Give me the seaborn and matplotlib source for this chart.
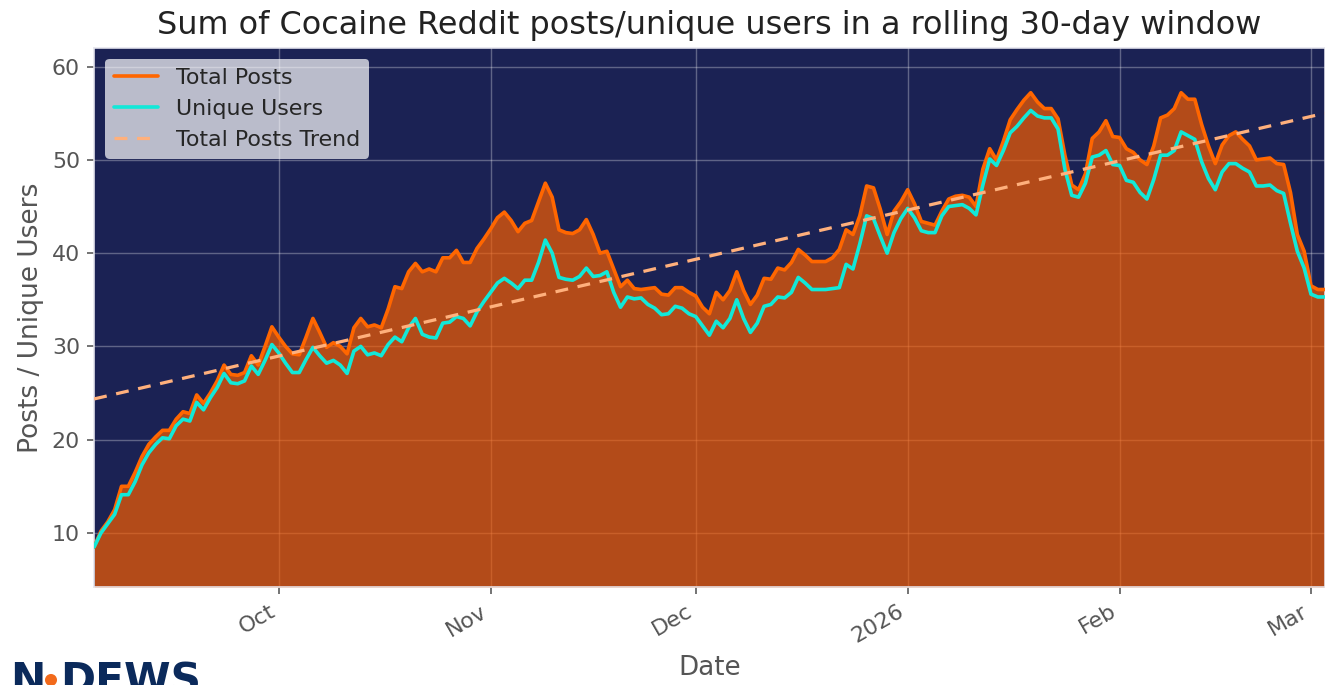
import numpy as np
import pandas as pd
import matplotlib
matplotlib.use("Agg")
import matplotlib.pyplot as plt
import matplotlib.dates as mdates
from matplotlib.patches import Ellipse
import seaborn as sns

# 30-day rolling sums, one value per day starting 2025-09-04
start_date = "2025-09-04"
total_posts = [
    8.5, 10.2, 11.2, 12.5, 15.0, 15.0, 16.5, 18.2, 19.5, 20.3,
    21.0, 21.0, 22.2, 23.0, 22.8, 24.8, 23.9, 25.0, 26.3, 28.0,
    27.0, 26.9, 27.2, 29.0, 28.0, 30.0, 32.1, 31.0, 30.0, 29.2,
    29.1, 31.0, 33.0, 31.5, 29.9, 30.4, 30.0, 29.2, 32.0, 33.0,
    32.1, 32.3, 32.0, 34.0, 36.4, 36.2, 38.0, 38.9, 38.0, 38.3,
    38.0, 39.5, 39.5, 40.3, 39.0, 39.0, 40.5, 41.5, 42.6, 43.8,
    44.4, 43.5, 42.3, 43.2, 43.5, 45.5, 47.5, 46.0, 42.5, 42.2,
    42.1, 42.5, 43.6, 42.0, 40.0, 40.2, 38.3, 36.4, 37.1, 36.2,
    36.1, 36.2, 36.3, 35.6, 35.5, 36.3, 36.3, 35.8, 35.4, 34.2,
    33.5, 35.8, 35.0, 36.0, 38.0, 36.0, 34.5, 35.5, 37.3, 37.2,
    38.4, 38.2, 39.0, 40.4, 39.8, 39.1, 39.1, 39.1, 39.5, 40.4,
    42.5, 42.0, 44.0, 47.2, 47.0, 44.7, 42.0, 44.5, 45.5, 46.8,
    45.3, 43.4, 43.2, 43.0, 44.5, 45.8, 46.1, 46.2, 46.0, 45.0,
    49.0, 51.2, 50.0, 52.0, 54.3, 55.4, 56.4, 57.2, 56.2, 55.5,
    55.5, 54.4, 50.5, 47.3, 46.8, 48.5, 52.3, 53.0, 54.2, 52.5,
    52.4, 51.2, 50.8, 50.0, 49.5, 51.5, 54.5, 54.8, 55.5, 57.2,
    56.5, 56.5, 53.8, 51.5, 49.6, 51.6, 52.6, 53.0, 52.2, 51.5,
    50.0, 50.1, 50.2, 49.6, 49.5, 46.5, 42.0, 40.2, 36.5, 36.1,
    36.1,
]
unique_users = [
    8.5, 10.0, 11.0, 12.0, 14.1, 14.1, 15.5, 17.3, 18.6, 19.5,
    20.2, 20.1, 21.5, 22.2, 22.0, 24.0, 23.2, 24.5, 25.6, 27.1,
    26.1, 26.0, 26.3, 27.9, 27.0, 28.5, 30.2, 29.3, 28.2, 27.2,
    27.2, 28.6, 29.9, 29.0, 28.2, 28.5, 28.0, 27.1, 29.5, 30.0,
    29.1, 29.3, 29.0, 30.2, 31.0, 30.5, 32.0, 33.0, 31.3, 31.0,
    30.9, 32.5, 32.6, 33.2, 33.0, 32.2, 33.7, 34.8, 35.8, 36.8,
    37.3, 36.8, 36.2, 37.1, 37.1, 39.0, 41.4, 40.0, 37.4, 37.2,
    37.1, 37.5, 38.4, 37.5, 37.6, 38.0, 35.8, 34.2, 35.3, 35.1,
    35.2, 34.5, 34.1, 33.4, 33.5, 34.3, 34.1, 33.5, 33.2, 32.2,
    31.2, 32.7, 32.0, 33.0, 35.0, 33.0, 31.5, 32.5, 34.3, 34.5,
    35.3, 35.2, 35.8, 37.4, 36.8, 36.1, 36.1, 36.1, 36.2, 36.3,
    38.8, 38.3, 41.0, 44.0, 43.7, 41.8, 40.0, 42.2, 43.7, 44.8,
    43.8, 42.4, 42.2, 42.2, 44.0, 45.0, 45.1, 45.2, 44.8, 44.1,
    47.3, 50.1, 49.4, 51.0, 52.9, 53.6, 54.5, 55.3, 54.7, 54.5,
    54.5, 53.3, 49.0, 46.2, 46.0, 47.5, 50.3, 50.5, 51.0, 49.5,
    49.4, 47.8, 47.6, 46.5, 45.8, 47.9, 50.5, 50.5, 51.0, 53.0,
    52.6, 52.2, 49.8, 48.0, 46.8, 48.7, 49.6, 49.6, 49.1, 48.7,
    47.2, 47.2, 47.3, 46.7, 46.4, 43.2, 40.2, 38.4, 35.6, 35.3,
    35.3,
]

dates = pd.date_range(start_date, periods=len(total_posts), freq="D")
df = pd.DataFrame({"date": dates, "total_posts": total_posts, "unique_users": unique_users})

# linear trend of total posts
x_num = mdates.date2num(df["date"])
slope, intercept = np.polyfit(x_num, df["total_posts"], 1)
df["trend"] = slope * x_num + intercept

sns.set_style("dark")
plt.rcParams["font.family"] = ["DejaVu Sans"]

fig = plt.figure(figsize=(1326 / 145, 685 / 145), dpi=145)
ax = fig.add_axes([0.071, 0.143, 0.928, 0.787])
ax.set_facecolor("#1b2254")

ax.fill_between(df["date"], 0, df["total_posts"], color="#f55d01", alpha=0.7, linewidth=0, zorder=1)
sns.lineplot(data=df, x="date", y="total_posts", ax=ax, color="#ff6600", linewidth=1.8,
             label="Total Posts", zorder=3)
sns.lineplot(data=df, x="date", y="unique_users", ax=ax, color="#12e8d8", linewidth=1.8,
             label="Unique Users", zorder=4)
sns.lineplot(data=df, x="date", y="trend", ax=ax, color="#ffb07c", linewidth=1.6,
             linestyle=(0, (4, 3)), label="Total Posts Trend", zorder=5)

ax.set_axisbelow(True)
ax.grid(True, color="white", alpha=0.3, linewidth=0.7)
ax.set_xlim(df["date"].iloc[0], df["date"].iloc[-1])
ax.set_ylim(4.2, 62)
ax.set_yticks([10, 20, 30, 40, 50, 60])

locator = mdates.MonthLocator()
ax.xaxis.set_major_locator(locator)
ax.xaxis.set_major_formatter(mdates.ConciseDateFormatter(locator))
for lbl in ax.get_xticklabels():
    lbl.set_rotation(30)
    lbl.set_ha("right")

ax.tick_params(axis="both", labelsize=11, colors="#555555", length=3.5, width=0.8,
               bottom=True, left=True)
for sp in ax.spines.values():
    sp.set_color("#e6e6ee")
    sp.set_linewidth(0.8)

ax.set_title("Sum of Cocaine Reddit posts/unique users in a rolling 30-day window",
             fontsize=15.8, color="#222222", pad=7)
ax.set_xlabel("Date", fontsize=13, color="#555555")
ax.set_ylabel("Posts / Unique Users", fontsize=13.2, color="#555555")

leg = ax.legend(loc="upper left", fontsize=11, frameon=True, framealpha=0.7,
                facecolor="white", edgecolor="none")

# N-DEWS logo, cut off by the bottom edge
fig.text(10 / 1326, -0.012, "N", fontsize=21, fontweight="heavy", color="#0b2a5b")
fig.add_artist(Ellipse((51 / 1326, 1 - 680 / 685), 10 / 1326, 10 / 685,
                       transform=fig.transFigure, color="#f26a1b"))
fig.text(60 / 1326, -0.012, "DEWS", fontsize=21, fontweight="heavy", color="#0b2a5b")

fig.savefig("out.png", dpi=145)
plt.close(fig)
